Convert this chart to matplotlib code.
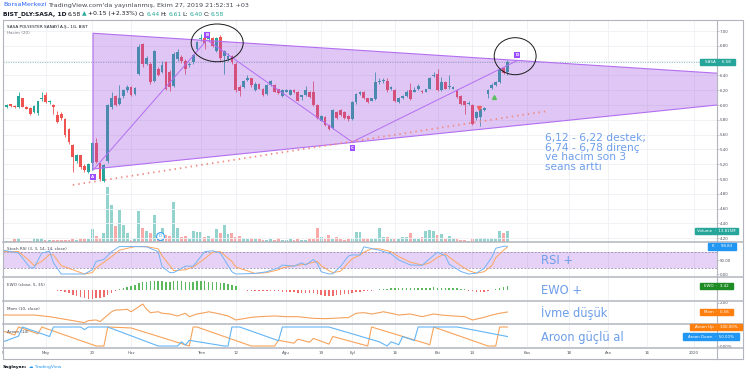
import numpy as np
import matplotlib
matplotlib.use("Agg")
import matplotlib.pyplot as plt
from matplotlib.patches import Polygon, Ellipse, Rectangle

plt.rcParams["font.family"] = ["DejaVu Sans"]

# ---------------- data ----------------
opens = [5.86, 5.97, 6.01, 5.99, 5.97, 6.09, 5.97, 5.96, 5.91, 5.89,
         6.08, 6.13, 6.04, 6.00, 5.87, 5.88, 5.81, 5.68, 5.46, 5.25,
         5.32, 5.18, 5.10, 5.21, 5.49, 5.21, 4.98, 5.25, 5.97, 6.12,
         6.02, 6.12, 6.20, 6.24, 6.15, 6.42, 6.82, 6.56, 6.56, 6.33,
         6.49, 6.45, 6.58, 6.45, 6.26, 6.62, 6.65, 6.60, 6.54, 6.58,
         6.76, 6.89, 6.90, 6.89, 6.90, 6.73, 6.92, 6.66, 6.62, 6.66,
         6.56, 6.25, 6.25, 6.34, 6.36, 6.20, 6.29, 6.22, 6.15, 6.27,
         6.27, 6.21, 6.12, 6.18, 6.14, 6.20, 6.18, 6.11, 6.13, 6.18,
         6.17, 6.00, 5.79, 5.84, 5.73, 5.69, 5.91, 5.93, 5.91, 5.85,
         5.81, 6.04, 6.15, 6.18, 6.09, 6.06, 6.08, 6.31, 6.32, 6.33,
         6.22, 6.20, 6.04, 6.09, 6.12, 6.20, 6.18, 6.21, 6.19, 6.18,
         6.22, 6.39, 6.42, 6.20, 6.31, 6.24, 6.22, 6.20, 6.12, 6.05,
         6.01, 6.00, 5.82, 5.84, 5.93, 6.15, 6.23, 6.27, 6.31, 6.50,
         6.44]
highs = [5.98, 6.01, 6.02, 6.00, 6.18, 6.10, 5.99, 5.97, 6.00, 6.06,
         6.18, 6.17, 6.07, 6.01, 5.92, 5.90, 5.82, 5.69, 5.47, 5.34,
         5.33, 5.20, 5.21, 5.50, 5.55, 5.22, 5.20, 6.02, 6.18, 6.14,
         6.27, 6.22, 6.27, 6.26, 6.25, 6.83, 6.84, 6.66, 6.58, 6.75,
         6.52, 6.60, 6.60, 6.48, 6.72, 6.76, 6.67, 6.62, 6.58, 6.69,
         6.87, 6.96, 6.95, 6.93, 6.92, 6.92, 6.94, 6.75, 6.70, 6.68,
         6.58, 6.27, 6.34, 6.40, 6.37, 6.31, 6.30, 6.23, 6.28, 6.34,
         6.28, 6.22, 6.21, 6.21, 6.21, 6.21, 6.19, 6.14, 6.26, 6.19,
         6.33, 6.01, 5.86, 5.85, 5.74, 5.94, 5.92, 5.94, 5.92, 5.86,
         6.05, 6.16, 6.19, 6.19, 6.10, 6.10, 6.45, 6.36, 6.36, 6.36,
         6.26, 6.21, 6.11, 6.14, 6.20, 6.30, 6.24, 6.28, 6.20, 6.22,
         6.38, 6.44, 6.49, 6.38, 6.32, 6.40, 6.26, 6.22, 6.13, 6.06,
         6.05, 6.01, 5.92, 5.96, 5.98, 6.22, 6.30, 6.33, 6.49, 6.51,
         6.61]
lows = [5.84, 5.96, 5.98, 5.96, 5.96, 5.97, 5.94, 5.86, 5.89, 5.87,
        6.06, 6.03, 6.02, 5.88, 5.76, 5.80, 5.57, 5.48, 5.10, 5.22,
        5.14, 5.10, 5.08, 5.12, 5.22, 4.99, 4.96, 5.22, 5.95, 5.99,
        6.00, 6.10, 6.18, 6.12, 6.13, 6.40, 6.52, 6.54, 6.28, 6.31,
        6.39, 6.43, 6.20, 6.19, 6.24, 6.60, 6.57, 6.42, 6.52, 6.56,
        6.74, 6.87, 6.76, 6.87, 6.78, 6.71, 6.61, 6.42, 6.60, 6.55,
        6.18, 6.12, 6.23, 6.32, 6.25, 6.19, 6.21, 6.12, 6.14, 6.26,
        6.17, 6.15, 6.11, 6.17, 6.13, 6.16, 6.05, 6.07, 6.12, 6.10,
        5.99, 5.81, 5.78, 5.72, 5.66, 5.68, 5.81, 5.85, 5.81, 5.79,
        5.80, 6.02, 6.14, 6.08, 6.03, 6.05, 6.07, 6.29, 6.30, 6.18,
        6.20, 6.04, 6.03, 6.08, 6.11, 6.07, 6.17, 6.20, 6.16, 6.17,
        6.21, 6.38, 6.19, 6.19, 6.21, 6.22, 6.21, 6.10, 6.00, 5.88,
        6.00, 5.73, 5.80, 5.72, 5.92, 6.10, 6.22, 6.26, 6.30, 6.42,
        6.40]
closes = [5.96, 6.00, 5.99, 5.97, 6.12, 5.98, 5.95, 5.88, 5.99, 6.05,
          6.10, 6.04, 6.06, 5.98, 5.77, 5.82, 5.59, 5.50, 5.30, 5.32,
          5.16, 5.12, 5.20, 5.49, 5.23, 5.00, 5.19, 6.00, 6.09, 6.00,
          6.09, 6.20, 6.24, 6.13, 6.23, 6.78, 6.55, 6.64, 6.31, 6.73,
          6.41, 6.54, 6.22, 6.24, 6.69, 6.71, 6.59, 6.49, 6.56, 6.67,
          6.85, 6.91, 6.84, 6.91, 6.80, 6.91, 6.63, 6.73, 6.66, 6.58,
          6.20, 6.19, 6.32, 6.36, 6.27, 6.29, 6.22, 6.13, 6.27, 6.32,
          6.18, 6.16, 6.20, 6.20, 6.20, 6.17, 6.06, 6.13, 6.20, 6.11,
          6.00, 5.82, 5.85, 5.73, 5.68, 5.93, 5.82, 5.86, 5.82, 5.81,
          6.04, 6.15, 6.18, 6.09, 6.04, 6.09, 6.31, 6.33, 6.34, 6.20,
          6.24, 6.06, 6.09, 6.12, 6.18, 6.08, 6.20, 6.26, 6.17, 6.21,
          6.36, 6.41, 6.20, 6.31, 6.22, 6.25, 6.24, 6.11, 6.02, 6.00,
          6.03, 5.75, 5.90, 5.94, 5.96, 6.20, 6.27, 6.31, 6.47, 6.43,
          6.58]
volume_m = [2.5, 1.7, 1.7, 3.3, 4.6, 1.7, 1.7, 1.7, 5.0, 4.2,
            4.6, 1.9, 2.5, 2.1, 2.1, 2.1, 2.5, 2.9, 3.8, 2.9,
            3.3, 4.2, 3.8, 16, 7.5, 4.6, 11.7, 69, 47, 20,
            40, 21, 11, 2.5, 3.3, 39, 17, 14, 11, 34,
            8.8, 17, 8.8, 7.5, 50, 17.6, 6.7, 7.5, 3.3, 14,
            12, 12, 6.7, 7.5, 4.6, 16, 11.7, 21, 9.6, 11,
            6.7, 7.5, 5.4, 3.3, 5.4, 3.3, 3.8, 2.5, 2.5, 3.8,
            2.5, 5.0, 2.5, 2.5, 3.8, 2.5, 3.8, 2.5, 2.5, 3.8,
            3.8, 17, 6.7, 3.8, 8.8, 3.8, 5.9, 3.8, 2.5, 3.3,
            3.8, 12.5, 12.5, 4.6, 3.3, 3.3, 3.8, 17, 6.0, 6.7,
            4.2, 3.8, 3.3, 6.7, 6.7, 11, 4.6, 3.3, 6.7, 14.2,
            15, 14.2, 8.8, 9.6, 4.2, 7.5, 4.6, 3.3, 2.5, 2.5,
            1.7, 4.2, 3.3, 4.6, 4.6, 4.2, 4.6, 4.2, 13.8, 11,
            13.815]
ewo = [-0.3, -0.3, -0.3, -0.2, -0.2, -0.2, -0.3, -0.3, -0.3, -0.2,
       -0.2, -0.2, -0.3, -0.5, -1.0, -1.5, -2.5, -3.5, -5, -6,
       -7, -8, -9, -9.5, -8.5, -8.5, -7.5, -5, -3, -1.5,
       0.8, 2, 3, 4, 5, 6.5, 7.5, 8, 8.5, 9,
       8.8, 8.5, 8, 8, 8.5, 8.5, 8.3, 8, 7.8, 8,
       8.2, 8.3, 8.2, 8, 7.8, 7.5, 7, 6.5, 6, 5,
       4, -0.4, -0.8, -1, -1.2, -1.3, -1.3, -1.4, -1.5, -1.5,
       -1.6, -1.8, -2, -2.2, -2.5, -2.8, -3, -3.3, -3.5, -3.5,
       -3.8, -4.5, -5.5, -6, -6.5, -6, -5.5, -5, -4.5, -4,
       -3.5, -2.8, -2.2, -1.8, -1.5, -1.2, -0.8, 0.5, 0.8, 1,
       1.2, 1.3, 1.4, 1.5, 1.5, 1.6, 1.7, 1.8, 1.9, 2,
       2, 2.1, 2, 1.9, 1.8, 1.6, 1.4, 1.2, 1.0, 0.5,
       -1, -1.8, -2.2, -2.3, -2, -1.5, -0.8, 0.5, 1.5, 2.5,
       3.42]

stoch_bars = [0, 4, 7, 8, 10, 12, 13, 15, 21, 23, 24, 26, 28, 30, 34, 37, 40, 41,
              43, 44, 47, 49, 50, 52, 54, 56, 59, 60, 65, 68, 71, 72, 75, 77, 78,
              80, 81, 82, 84, 85, 87, 89, 90, 92, 93, 95, 97, 100, 102, 105, 108,
              110, 112, 114, 115, 118, 120, 122, 124, 126, 127, 129, 130]
stoch_k = [85, 75, 22, 22, 75, 82, 40, 0, 0, 15, 45, 52, 80, 98, 98, 97, 80, 26,
           5, 5, 28, 28, 45, 80, 83, 75, 8, 0, 2, 8, 22, 32, 28, 40, 32,
           52, 38, 8, 0, 1, 27, 64, 68, 68, 97, 91, 85, 72, 50, 32, 31,
           55, 78, 65, 35, 9, 0, 3, 20, 60, 92, 99, 99]
stoch_d = [80, 80, 45, 30, 45, 70, 68, 30, 0, 5, 22, 42, 62, 85, 98, 98, 90, 65,
           30, 12, 15, 25, 35, 55, 78, 80, 45, 25, 2, 5, 15, 22, 30, 33, 35,
           42, 45, 30, 12, 5, 10, 40, 55, 67, 78, 90, 90, 80, 62, 42, 32,
           40, 60, 72, 60, 30, 12, 3, 8, 30, 58, 85, 96]

mom_bars = [0, 8, 12, 16, 21, 22, 24, 25, 27, 28, 29, 30, 32, 33, 34, 36, 37, 38,
            40, 41, 43, 45, 47, 48, 50, 52, 53, 55, 57, 58, 60, 61, 64, 66, 70,
            73, 76, 80, 83, 85, 88, 89, 91, 93, 95, 97, 98, 100, 102, 105, 108,
            111, 113, 116, 119, 121, 124, 126, 128, 130]
mom_vals = [0.1, 0.1, -0.15, -0.55, -1.05, -0.75, -0.65, -0.9, 0.1, 0.6, 0.87, 0.87,
            0.97, 0.6, 0.97, 1.77, 0.97, 0.46, 0.6, 0.37, 0.26, -0.04, 0.37, -0.15,
            0.26, 0.46, 0.6, 0.37, 0.1, -0.04, -0.65, -0.55, -0.25, -0.15, -0.04,
            -0.15, -0.15, -0.4, -0.45, -0.4, -0.3, -0.3, 0.37, 0.46, 0.26, 0.46, 0.6,
            0.37, 0.1, 0.26, -0.15, 0.26, 0.1, -0.04, -0.15, -0.65, -0.25, 0.1,
            0.37, 0.56]

aroon_up_bars = [0, 3, 4, 9, 10, 24, 26, 27, 33, 48, 49, 50, 64, 70, 71, 75, 76,
                 79, 80, 84, 85, 94, 95, 110, 111, 125, 127, 128, 130]
aroon_up = [79, 58, 100, 64, 100, 0, 0, 100, 95, 0, 100, 100, 0, 0, 30, 15, 36,
            20, 40, 10, 50, 0, 100, 7, 100, 0, 0, 100, 100]
aroon_dn_bars = [0, 4, 5, 12, 13, 20, 21, 22, 27, 40, 45, 46, 47, 48, 57, 58, 59,
                 61, 71, 72, 84, 97, 99, 100, 102, 103, 106, 107, 117, 119, 130]
aroon_dn = [22, 52, 100, 50, 100, 100, 86, 100, 100, 0, 0, 22, 5, 30, 0, 0, 100,
            100, 28, 100, 100, 22, 0, 22, 7, 50, 29, 100, 100, 93, 50]

date_tick_bars = [0, 11, 23, 33, 51, 60, 73, 82, 90, 101, 112, 121, 135, 146,
                  156, 166, 178]
date_tick_labels = ["5", "May", "20", "Haz", "Tem", "12", "Ağu", "19", "Eyl", "16",
                    "Eki", "14", "Kas", "18", "Ara", "16", "2020"]

# price scale labels (6.60 sits under the last-price tag, so it is not shown)
price_ticks = [4.2, 4.4, 4.6, 4.8, 5.0, 5.2, 5.4, 5.6, 5.8, 6.0, 6.2, 6.4, 6.8, 7.0]

# drawings on the price chart (bar index, price)
wedge_bars = [23.2, 184, 184, 23.2]
wedge_prices = [6.97, 6.43, 6.00, 5.135]
abcd_bars = [23.2, 52.6, 90.0, 132.5]
abcd_prices = [5.12, 6.88, 5.50, 6.60]
abcd_label_prices = [5.03, 6.95, 5.42, 6.68]
abcd_letters = ["A", "B", "C", "D"]
trend_bars = [18.0, 140.5]
trend_prices = [4.92, 5.92]
circle_bars = [55.2, 132.0]
circle_prices = [6.84, 6.66]
circle_w = [13.4, 10.8]
circle_h = [0.51, 0.50]
last_price = 6.58
sell_mark = (122.7, 5.96)
buy_mark = (126.5, 6.11)
div_mark = (40.5, 7.5)

# ---------------- layout ----------------
W, H = 745, 375
fig = plt.figure(figsize=(W / 100, H / 100), dpi=100)
fig.patch.set_facecolor("white")

L, R, RF = 3, 717, 743
rows = [20, 242, 277, 301, 324, 348]
XMAX = (R - L) / 3.88


def rect(x0, y0, x1, y1):
    return [x0 / W, 1 - y1 / H, (x1 - x0) / W, (y1 - y0) / H]


# volume sits in its own axes behind the price axes
ax_v = fig.add_axes(rect(L, rows[0], R, rows[1]), zorder=0)
ax_v.set_xlim(0, XMAX)
ax_v.set_ylim(0, 279)
ax_v.axis("off")

axes = []
for i in range(5):
    a = fig.add_axes(rect(L, rows[i], R, rows[i + 1]), zorder=1)
    a.set_xlim(0, XMAX)
    a.patch.set_visible(False)
    for s in a.spines.values():
        s.set_visible(False)
    a.set_xticks(date_tick_bars)
    a.tick_params(axis="x", length=0, labelbottom=False)
    a.grid(axis="x", color="#eef0f5", lw=0.6, zorder=0)
    a.yaxis.tick_right()
    a.tick_params(axis="y", length=1.4, width=0.4, color="#9598a1",
                  labelsize=2.9, labelcolor="#50535e", pad=0.8)
    a.set_axisbelow(True)
    axes.append(a)
ax, ax_st, ax_ew, ax_mo, ax_ar = axes

bars = np.arange(len(closes))
o = np.array(opens)
c = np.array(closes)
up = c >= o
UP, DN = "#26a69a", "#ef5350"
cols = np.where(up, UP, DN)

ax_v.bar(bars, volume_m, width=0.75, color=np.where(up, "#93d3cd", "#f7aaa8"), linewidth=0)
ax_v.plot(*div_mark, "o", ms=5.6, mfc="white", mec="#2196f3", mew=0.7)
ax_v.text(*div_mark, "D", fontsize=2.8, color="#2196f3", ha="center", va="center")

# price panel
ax.set_ylim(4.149, 7.149)
ax.set_yticks(price_ticks)
ax.set_yticklabels([f"{v:.2f}" for v in price_ticks])
ax.grid(axis="y", color="#eef0f5", lw=0.6, zorder=0)
ax.axhline(6.6, color="#eef0f5", lw=0.6, zorder=0)
ax.axhline(last_price, color="#8dbcc0", lw=0.7, ls=(0, (1, 1.5)), zorder=1)
ax.vlines(bars, lows, highs, colors=cols, lw=0.6, zorder=2)
ax.bar(bars, np.maximum(np.abs(c - o), 0.012), bottom=np.minimum(o, c),
       width=0.72, color=cols, linewidth=0, zorder=2)

ax.add_patch(Polygon(list(zip(wedge_bars, wedge_prices)), closed=True,
                     facecolor="#9d4edd", alpha=0.32, edgecolor="none", zorder=3))
ax.plot([wedge_bars[1], wedge_bars[0], wedge_bars[3], wedge_bars[2]],
        [wedge_prices[1], wedge_prices[0], wedge_prices[3], wedge_prices[2]],
        color="#b36ef2", lw=0.8, zorder=4)
ax.plot(abcd_bars, abcd_prices, color="#b36ef2", lw=0.7, zorder=4)
ax.plot(trend_bars, trend_prices, color="#f28b82", lw=1.3, ls=(0, (0.8, 2.2)), zorder=4)
for b, p, t in zip(abcd_bars, abcd_label_prices, abcd_letters):
    ax.text(b, p, t, fontsize=3.0, color="white", ha="center", va="center",
            fontweight="bold", zorder=6,
            bbox=dict(boxstyle="square,pad=0.25", fc="#9c4dff", ec="none"))
for cb, cp, w, h in zip(circle_bars, circle_prices, circle_w, circle_h):
    ax.add_patch(Ellipse((cb, cp), w, h, fill=False, ec="#1a1a1a", lw=0.7, zorder=7))
ax.plot(*sell_mark, marker="v", color="#f06060", ms=2.8, zorder=5)
ax.plot(*buy_mark, marker="^", color="#5cc060", ms=2.8, zorder=5)

# stoch rsi
ax_st.set_ylim(-10.7, 114.3)
ax_st.set_yticks([0, 50])
ax_st.set_yticklabels(["0.00", "50.00"])
ax_st.axhspan(20, 80, color="#9d4edd", alpha=0.25, lw=0, zorder=1)
for lvl in (20, 80):
    ax_st.axhline(lvl, color="#8a7fa8", lw=0.5, ls=(0, (3, 2)), zorder=2)
ax_st.plot(stoch_bars, stoch_d, color="#ffa65c", lw=0.7, zorder=3)
ax_st.plot(stoch_bars, stoch_k, color="#73b4f5", lw=0.7, zorder=3)

# ewo
ax_ew.set_ylim(-11.5, 12.5)
ax_ew.set_yticks([])
ax_ew.bar(bars, ewo, width=0.38, color=np.where(np.array(ewo) >= 0, "#5cb85c", "#f06b6b"),
          linewidth=0, zorder=3)

# momentum
ax_mo.set_ylim(-1.26, 2.23)
ax_mo.set_yticks([2])
ax_mo.set_yticklabels(["2.00"])
ax_mo.plot(mom_bars, mom_vals, color="#f5a25d", lw=0.8, zorder=3)

# aroon
ax_ar.set_ylim(-10.5, 115.8)
ax_ar.set_yticks([0])
ax_ar.set_yticklabels(["0.00%"])
ax_ar.plot(aroon_up_bars, aroon_up, color="#f7a35c", lw=0.8, zorder=3)
ax_ar.plot(aroon_dn_bars, aroon_dn, color="#64b5f6", lw=0.8, zorder=3)
ax_ar.tick_params(axis="x", labelbottom=True, labelsize=2.9, labelcolor="#50535e", pad=2.2)
ax_ar.set_xticklabels(date_tick_labels)

# frame lines
frame = fig.add_axes([0, 0, 1, 1], zorder=5)
frame.set_xlim(0, W)
frame.set_ylim(H, 0)
frame.axis("off")
frame.patch.set_visible(False)
fc = "#b2b5be"
frame.plot([L, RF, RF, L, L], [rows[0], rows[0], 359, 359, rows[0]], color=fc, lw=0.8)
for y in rows[1:]:
    frame.plot([L, RF], [y, y], color=fc, lw=1.1)
frame.plot([R, R], [rows[0], 359], color=fc, lw=0.8)


# value tags on the right scale
def tag(a, value, text, color, x0, x1):
    y = a.transData.transform((0, value))[1]
    fig.patches.append(Rectangle((x0 / W, y / H - 3.2 / H), (x1 - x0) / W, 6.4 / H,
                                 transform=fig.transFigure, color=color, zorder=8))
    fig.text((x0 + x1) / 2 / W, y / H, text, color="white", fontsize=2.9,
             ha="center", va="center", zorder=9)


tag(ax, last_price, "SASA  ·  6.58", "#26a69a", 700, 735)
tag(ax_v, volume_m[-1], "Volume  ·  13.815M", "#26a69a", 695, 738)
tag(ax_st, stoch_k[-1] - 0.2, "K  ·  98.83", "#2196f3", 708, 736)
tag(ax_ew, ewo[-1], "EWO  ·  3.42", "#1e8c24", 700, 733)
tag(ax_mo, mom_vals[-1], "Mom  ·  0.56", "#ff7f0e", 700, 733)
tag(ax_ar, aroon_up[-1], "Aroon Up  ·  100.00%", "#ff7f0e", 690, 742)
tag(ax_ar, aroon_dn[-1], "Aroon Down  ·  50.00%", "#2196f3", 683, 739)

# texts
renderer = fig.canvas.get_renderer()


def seq_text(x, y, parts, size):
    for s, color, weight in parts:
        t = fig.text(x / W, 1 - y / H, s, color=color, fontweight=weight,
                     fontsize=size, va="center", ha="left")
        x = t.get_window_extent(renderer=renderer).x1 + 1.2


seq_text(3, 5, [("BorsaMerkezi", "#2962ff", "normal"),
                ("TradingView.com'da yayınlanmış, Ekim 27, 2019 21:52:31 +03", "#434651", "normal")], 4.6)
G, K = "#26a69a", "#131722"
seq_text(3, 14, [("BIST_DLY:SASA, 1D", K, "bold"), ("6.58", K, "normal"),
                 ("▲", G, "normal"), ("+0.15 (+2.33%)", K, "normal"),
                 ("O:", K, "normal"), ("6.44", G, "normal"), ("H:", K, "normal"),
                 ("6.61", G, "normal"), ("L:", K, "normal"), ("6.40", G, "normal"),
                 ("C:", K, "normal"), ("6.58", G, "normal")], 4.3)

small = dict(fontsize=3.0, va="center", ha="left")
fig.text(7 / W, 1 - 27 / H, "SASA POLYESTER SANAYİ A.Ş., 1G, BIST", color="#131722", **small)
fig.text(7 / W, 1 - 33 / H, "Hacim (20)", color="#787b86", **small)
fig.text(7 / W, 1 - 249 / H, "Stoch RSI (3, 3, 14, 14, close)", color="#434651", **small)
fig.text(7 / W, 1 - 285 / H, "EWO (close, 5, 35)", color="#434651", **small)
fig.text(7 / W, 1 - 309 / H, "Mom (10, close)", color="#434651", **small)
fig.text(7 / W, 1 - 332 / H, "Aroon (14)", color="#434651", **small)

note = "#6d9eeb"
fig.text(545 / W, 1 - 133 / H, "6,12 - 6,22 destek;\n6,74 - 6,78 direnç\nve hacim son 3\nseans arttı",
         color=note, fontsize=7.7, va="top", ha="left", linespacing=0.95)
for y, s in [(260, "RSI +"), (290, "EWO +"), (313, "İvme düşük"), (337, "Aroon güçlü al")]:
    fig.text(541 / W, 1 - y / H, s, color=note, fontsize=8.3, va="center", ha="left")

seq_text(3, 367, [("Sağlayan:", "#131722", "bold"), ("☁ TradingView", "#2196f3", "normal")], 3.2)

fig.savefig("out.png", dpi=100, facecolor="white")
